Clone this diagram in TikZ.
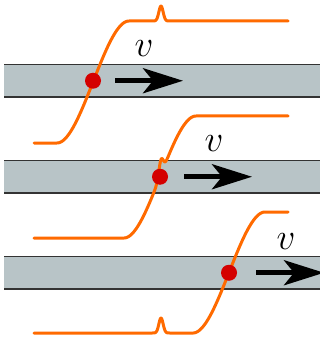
\RequirePackage{fix-cm}
\documentclass[tikz,border=0pt]{standalone}
\usetikzlibrary{arrows.meta}
\definecolor{bandgray}{HTML}{B8C4C7}
\definecolor{curveorange}{HTML}{FF6A00}
\definecolor{dotred}{HTML}{D40000}
\tikzset{
  declare function={
    sclamp(\t,\c)=max(min((\t-\c+36)/72,1),0);
    stepc(\t,\c)=2*sclamp(\t,\c)*sclamp(\t,\c)*(3-2*sclamp(\t,\c))-1;
    bumpf(\t)=15*exp(max(-((\t-161)/3)*((\t-161)/3),-30));
  },
  band/.style={fill=bandgray,draw=none},
  bandline/.style={draw=black!80,line width=1.3pt},
  curve/.style={draw=curveorange,line width=3pt,line join=round,line cap=round},
  dot/.style={circle,fill=dotred,draw=none,minimum size=16pt,inner sep=0pt},
  velarrow/.style={draw=black,line width=5pt,-{Stealth[length=40pt 0,width=25pt 0,inset=10pt 0]}},
  vlabel/.style={inner sep=0pt,font=\fontsize{37}{40}\selectfont},
}
\begin{document}
\begin{tikzpicture}[x=1pt,y=-1pt]
\useasboundingbox (0,0) rectangle (320,339);
% bands
\foreach \k in {0,1,2}{
  \fill[band] (4,{64.5+96*\k}) rectangle (322,{97+96*\k});
  \draw[bandline] (4,{64.5+96*\k}) -- (322,{64.5+96*\k});
  \draw[bandline] (4,{97+96*\k}) -- (322,{97+96*\k});
}
% curves
\draw[curve] plot[domain=34:288,samples=500] (\x,{82-61*stepc(\x,93)-bumpf(\x)});
\draw[curve] plot[domain=34:288,samples=500] (\x,{177-61*stepc(\x,160)-bumpf(\x)});
\draw[curve] plot[domain=34:288,samples=500] (\x,{272.5-60.5*stepc(\x,229)-bumpf(\x)});
% dots
\node[dot] (d1) at (93,80.75) {};
\node[dot] (d2) at (160,176.75) {};
\node[dot] (d3) at (229,272.75) {};
% arrows
\coordinate (a1s) at (115,80.75);
\coordinate (a1e) at (183,80.75);
\coordinate (a2s) at (184,176.75);
\coordinate (a2e) at (252,176.75);
\coordinate (a3s) at (256,272.75);
\coordinate (a3e) at (324,272.75);
\draw[velarrow] (a1s) -- (a1e);
\draw[velarrow] (a2s) -- (a2e);
\draw[velarrow] (a3s) -- (a3e);
% labels
\node[vlabel] (v1) at (144,48.5) {$v$};
\node[vlabel] (v2) at (214,144) {$v$};
\node[vlabel] (v3) at (286,241.5) {$v$};
\end{tikzpicture}
\end{document}
